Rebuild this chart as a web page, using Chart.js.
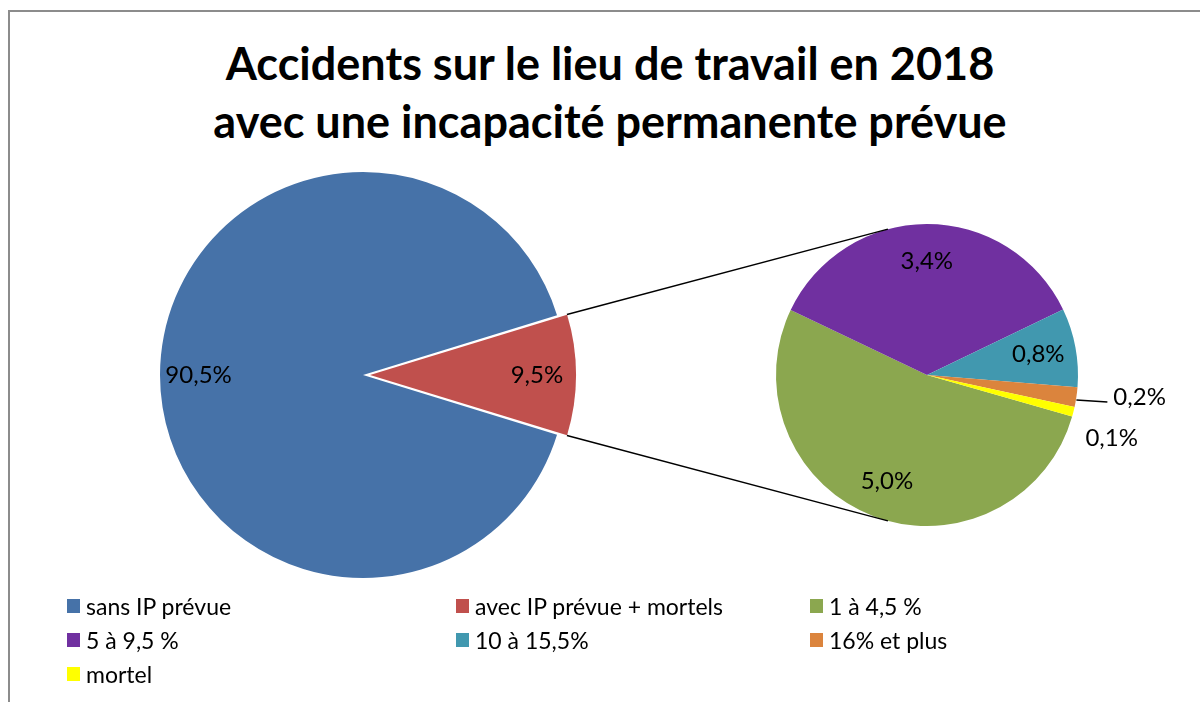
<!DOCTYPE html>
<html>
<head>
<meta charset="utf-8">
<script src="https://cdn.jsdelivr.net/npm/chart.js@4"></script>
<style>
  html, body { margin: 0; padding: 0; background: #fff; }
  #wrap { position: relative; width: 1200px; height: 702px; overflow: hidden; font-family: Lato, sans-serif; }
  #frame { position: absolute; left: 8px; top: 10px; width: 1300px; height: 800px; border-top: 2px solid #8c8c8c; border-left: 2px solid #8c8c8c; }
  #title { position: absolute; left: 10px; width: 1200px; top: 34px; text-align: center; font-weight: bold; font-size: 45px; line-height: 58px; color: #000; }
  canvas { position: absolute; left: 0; top: 0; }
  #legend { position: absolute; left: 0; top: 0; }
  .item { position: absolute; font-size: 23px; line-height: 24px; color: #000; white-space: nowrap; }
  .item span.box { position: absolute; left: 0; top: 5px; width: 13px; height: 14px; }
  .item span.txt { position: absolute; left: 19px; top: 0; }
</style>
</head>
<body>
<div id="wrap">
  <div id="frame"></div>
  <div id="title">Accidents sur le lieu de travail en 2018<br>avec une incapacité permanente prévue</div>
  <canvas id="mainPie" width="1200" height="702"></canvas>
  <canvas id="subPie" width="1200" height="702"></canvas>
  <div id="legend"></div>
</div>
<script>
const mainLabels = ['sans IP prévue', 'avec IP prévue + mortels'];
const mainValues = [90.5, 9.5];
const mainColors = ['#4672A8', '#C0504D'];

const subLabels = ['1 à 4,5 %', '5 à 9,5 %', '10 à 15,5%', '16% et plus', 'mortel'];
const subValues = [5.0, 3.4, 0.8, 0.2, 0.1];
const subColors = ['#8BA74F', '#7030A0', '#4198AF', '#DB843D', '#FFFF00'];

const fmt = v => v.toFixed(1).replace('.', ',') + '%';

// where Chart.js really paints an arc (its offset is shifted by offset/4)
function arcGeom(arc) {
  const mid = (arc.startAngle + arc.endAngle) / 2;
  const off = (arc.options.offset || 0) / 4;
  const fix = 1 - Math.sin(Math.min(Math.PI, arc.circumference || 0));
  return {
    mid,
    cx: arc.x + off * Math.cos(mid),
    cy: arc.y + off * Math.sin(mid),
    r: arc.outerRadius + off * fix
  };
}

// value labels drawn on (or next to) each slice
const sliceLabels = {
  id: 'sliceLabels',
  afterDatasetsDraw(chart, args, opts) {
    const ctx = chart.ctx;
    const meta = chart.getDatasetMeta(0);
    const values = chart.data.datasets[0].data;
    const total = values.reduce((a, b) => a + b, 0);
    let outside = 0;
    ctx.save();
    ctx.font = '24px Lato';
    ctx.fillStyle = '#000';
    ctx.textBaseline = 'middle';
    meta.data.forEach((arc, i) => {
      const g = arcGeom(arc);
      const text = fmt(values[i]);
      if (values[i] / total < 0.03 && opts.outside) {
        const o = opts.outside[outside++];
        const ex = g.cx + g.r * Math.cos(g.mid);
        const ey = g.cy + g.r * Math.sin(g.mid);
        if (o.leader) {
          ctx.strokeStyle = '#000';
          ctx.lineWidth = 1.5;
          ctx.beginPath();
          ctx.moveTo(ex, ey + 3);
          ctx.lineTo(ex + o.dx - 6, ey + 5);
          ctx.stroke();
        }
        ctx.textAlign = 'left';
        ctx.fillText(text, ex + o.dx, ey + o.dy);
      } else {
        const r = g.r * opts.factor;
        ctx.textAlign = 'center';
        ctx.fillText(text, g.cx + r * Math.cos(g.mid), g.cy + r * Math.sin(g.mid));
      }
    });
    ctx.restore();
  }
};

const mainChart = new Chart(document.getElementById('mainPie'), {
  type: 'pie',
  data: {
    labels: mainLabels,
    datasets: [{
      data: mainValues,
      backgroundColor: mainColors,
      borderWidth: 0,
      offset: [0, 28]
    }]
  },
  options: {
    responsive: false,
    animation: false,
    radius: 203,
    rotation: 90 + mainValues[1] / (mainValues[0] + mainValues[1]) * 180,
    layout: { padding: { left: 150, right: 624, top: 160, bottom: 112 } },
    plugins: {
      legend: { display: false },
      tooltip: { enabled: false },
      sliceLabels: { factor: 0.81 }
    }
  },
  plugins: [sliceLabels]
});

// lines joining the exploded slice to the second pie
const connectors = {
  id: 'connectors',
  afterDraw(chart) {
    const red = mainChart.getDatasetMeta(0).data[1];
    const g = arcGeom(red);
    const sub = chart.getDatasetMeta(0).data[0];
    const ang = 105 * Math.PI / 180;
    const ctx = chart.ctx;
    ctx.save();
    ctx.strokeStyle = '#000';
    ctx.lineWidth = 1.5;
    [[red.startAngle, -ang], [red.endAngle, ang]].forEach(([a, b]) => {
      ctx.beginPath();
      ctx.moveTo(g.cx + g.r * Math.cos(a), g.cy + g.r * Math.sin(a));
      ctx.lineTo(sub.x + sub.outerRadius * Math.cos(b), sub.y + sub.outerRadius * Math.sin(b));
      ctx.stroke();
    });
    ctx.restore();
  }
};

new Chart(document.getElementById('subPie'), {
  type: 'pie',
  data: {
    labels: subLabels,
    datasets: [{
      data: subValues,
      backgroundColor: subColors,
      borderWidth: 0
    }]
  },
  options: {
    responsive: false,
    animation: false,
    radius: 151,
    rotation: 106,
    layout: { padding: { left: 776, right: 122, top: 224, bottom: 176 } },
    plugins: {
      legend: { display: false },
      tooltip: { enabled: false },
      sliceLabels: {
        factor: 0.75,
        outside: [{ leader: true, dx: 37, dy: 0 }, { leader: false, dx: 12, dy: 26 }]
      }
    }
  },
  plugins: [sliceLabels, connectors]
});

// legend in three columns, same order as the original
const legendItems = mainLabels.map((l, i) => [l, mainColors[i]])
  .concat(subLabels.map((l, i) => [l, subColors[i]]));
const colX = [67, 456, 810];
const rowY = [594, 628, 662];
const legend = document.getElementById('legend');
legendItems.forEach(([label, color], i) => {
  const d = document.createElement('div');
  d.className = 'item';
  d.style.left = colX[i % 3] + 'px';
  d.style.top = rowY[Math.floor(i / 3)] + 'px';
  d.innerHTML = '<span class="box" style="background:' + color + '"></span><span class="txt"></span>';
  d.querySelector('.txt').textContent = label;
  legend.appendChild(d);
});
</script>
</body>
</html>
